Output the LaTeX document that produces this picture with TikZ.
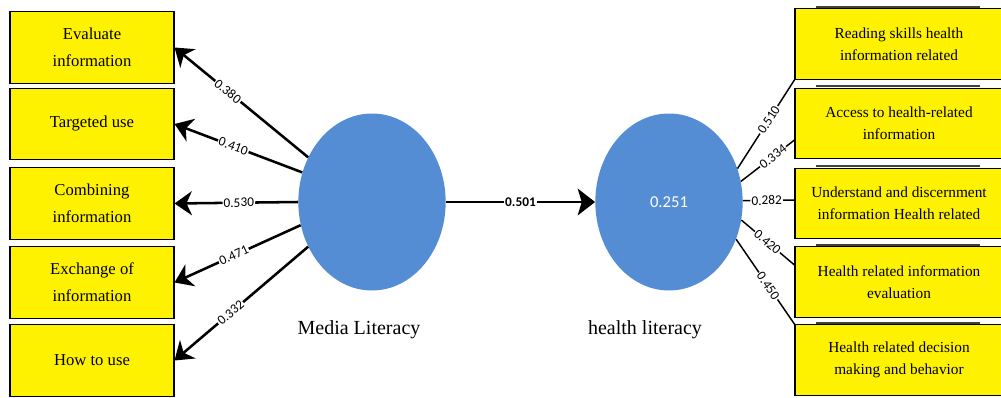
\documentclass[tikz,border=0pt]{standalone}
\usepackage{fontspec}
\setmainfont{Liberation Serif}
\newfontfamily\numfont{Carlito}
\usetikzlibrary{arrows.meta,shapes.geometric}
\definecolor{lvblue}{RGB}{85,141,213}

\begin{document}
\begin{tikzpicture}[x=0.75pt,y=-0.75pt,
	ybox/.style={draw,fill=yellow,line width=0.8pt,minimum width=123pt,minimum height=53.5pt,align=center,inner sep=0pt,font=\rmfamily\fontsize{12.5}{20}\selectfont},
	rbox/.style={ybox,minimum width=156pt,minimum height=53pt,font=\rmfamily\fontsize{11.5}{16.3}\selectfont},
	lv/.style={ellipse,fill=lvblue,minimum width=110.5pt,minimum height=132.75pt,inner sep=0pt},
	load/.style={fill=white,sloped,inner sep=0.8pt,font=\numfont\fontsize{10}{11}\selectfont},
	outarr/.style={line width=1.9pt,-{Stealth[length=13pt,width=18pt,inset=4pt]}},
	inline/.style={line width=1.1pt}]
	\useasboundingbox (0,0) rectangle (1001,397);
	\foreach \t in {7,86,166,245,323}
		\draw[line width=1.5pt,black!75] (816,\t) -- (980,\t);
	\node[ybox] (b1) at (92,47.5) {Evaluate\\information};
	\node[ybox] (b2) at (92,124) {Targeted use};
	\node[ybox] (b3) at (92,203.5) {Combining\\information};
	\node[ybox] (b4) at (92,282.5) {Exchange of\\information};
	\node[ybox] (b5) at (92,360.5) {How to use};
	\node[rbox] (r1) at (899,44) {Reading skills health\\information related};
	\node[rbox] (r2) at (899,123.5) {Access to health-related\\information};
	\node[rbox] (r3) at (899,203.5) {Understand and discernment\\information Health related};
	\node[rbox] (r4) at (899,282) {Health related information\\evaluation};
	\node[rbox] (r5) at (899,360) {Health related decision\\making and behavior};
	\node[lv] (ml) at (372,202) {};
	\node[lv,text=white,font=\numfont\fontsize{12.5}{14}\selectfont] (hl) at (669,202) {0.251};
	\node[font=\fontsize{15}{18}\selectfont] (mlname) at (359,330) {Media Literacy};
	\node[font=\fontsize{15}{18}\selectfont] (hlname) at (645,330) {health literacy};
	\draw[outarr] (ml.145) -- node[load,pos=0.6] {0.380} (b1.east);
	\draw[outarr] (ml.157) -- node[load,pos=0.54] {0.410} (b2.east);
	\draw[outarr] (ml.180) -- node[load,pos=0.48] {0.530} (b3.east);
	\draw[outarr] (ml.198) -- node[load,pos=0.53] {0.471} (b4.east);
	\draw[outarr] (ml.215) -- node[load,pos=0.58] {0.332} (b5.east);
	\draw[line width=1.9pt,-{Stealth[length=13pt,width=20pt,inset=3pt]}] (ml.east) -- node[load,font=\numfont\bfseries\fontsize{10}{11}\selectfont] {0.501} (hl.west);
	\draw[inline] (hl.26) -- node[load,pos=0.55] {0.510} (r1.south west);
	\draw[inline] (hl.16) -- node[load,pos=0.6] {0.334} ([yshift=-12.4pt]r2.west);
	\draw[inline] (hl.1) -- node[load,pos=0.46] {0.282} ([yshift=2.6pt]r3.west);
	\draw[inline] (hl.-14) -- node[load,pos=0.49] {0.420} ([yshift=12.75pt]r4.west);
	\draw[inline] (hl.-29) -- node[load,pos=0.55] {0.450} (r5.north west);
\end{tikzpicture}
\end{document}
